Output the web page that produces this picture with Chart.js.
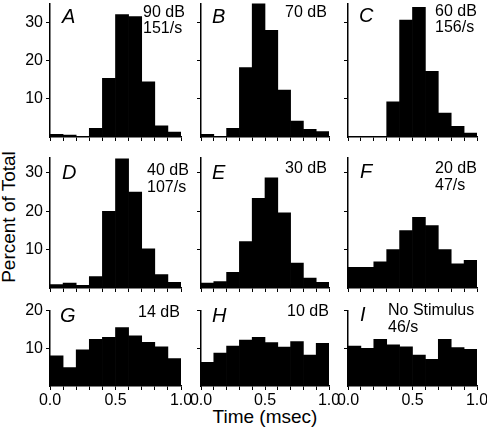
<!DOCTYPE html>
<html>
<head>
<meta charset="utf-8">
<script src="https://cdn.jsdelivr.net/npm/chart.js@4.4.1/dist/chart.umd.min.js"></script>
<style>
  html, body { margin: 0; padding: 0; background: #fff; }
  #fig { position: relative; width: 487px; height: 430px; overflow: hidden; background: #fff;
         font-family: "Liberation Sans", Arial, sans-serif; color: #000; }
  #fig canvas { position: absolute; }
  .axis-title { position: absolute; font-size: 19px; line-height: 20px; white-space: nowrap; }
  #ytitle { left: 9px; top: 217px; transform: translate(-50%, -50%) rotate(-90deg); }
  #xtitle { left: 265px; top: 417px; transform: translate(-50%, -50%); }
</style>
</head>
<body>
<div id="fig">
  <div class="axis-title" id="ytitle">Percent of Total</div>
  <div class="axis-title" id="xtitle">Time (msec)</div>
</div>
<script>
// histogram bins, 0.1 msec wide from 0 to 1.0 msec
const binCenters = [0.05, 0.15, 0.25, 0.35, 0.45, 0.55, 0.65, 0.75, 0.85, 0.95];
const xTickLabels = ['0.0', '0.5', '1.0'];
const yTickValues = [10, 20, 30];

const panelLetters = ['A', 'B', 'C', 'D', 'E', 'F', 'G', 'H', 'I'];
const panelNotes = [
  ['90 dB', '151/s'], ['70 dB'], ['60 dB', '156/s'],
  ['40 dB', '107/s'], ['30 dB'], ['20 dB', '47/s'],
  ['14 dB'], ['10 dB'], ['No Stimulus', '46/s']
];

// percent of total per bin
const pct90 = [0.7, 0.5, 0, 2.3, 15.4, 32.1, 31.6, 14.5, 2.9, 1.3];
const pct70 = [0.7, 0, 2.3, 18.2, 35.2, 28.0, 12.3, 4.2, 2.0, 1.4];
const pct60 = [0, 0, 0, 9.2, 30.7, 34.0, 17.2, 6.3, 2.8, 1.0];
const pct40 = [0.9, 1.3, 0.7, 3.0, 20.0, 33.7, 25.0, 10.2, 3.5, 1.5];
const pct30 = [1.3, 1.7, 4.1, 12.1, 23.4, 28.7, 19.6, 6.5, 2.6, 1.5];
const pct20 = [5.4, 5.4, 6.8, 10.0, 15.0, 18.4, 16.3, 10.0, 6.3, 7.2];
const pct14 = [8.0, 4.9, 9.6, 12.4, 12.9, 15.5, 13.3, 11.6, 10.4, 7.3];
const pct10 = [6.3, 8.7, 10.6, 12.2, 12.9, 11.5, 10.3, 11.8, 8.2, 11.3];
const pctNone = [10.6, 10.0, 12.4, 10.9, 10.4, 8.2, 7.1, 12.4, 10.2, 9.7];

const panelValues = [pct90, pct70, pct60, pct40, pct30, pct20, pct14, pct10, pctNone];
const rowMax = [35, 34, 20];

// page layout (px)
const colLeft = [50, 201, 348];
const colWidth = [131, 128, 129];
const rowTop = [3, 157, 310];
const rowZero = [137.5, 288.5, 386];
const PAD_T = 12, PAD_R = 14, Y_W = 50, X_H = 40;

const letterPos = [[62, 17], [212, 17], [359, 16], [62, 173], [212, 173], [360, 172], [60, 316], [212, 316], [360, 315]];
const notePos = [
  [143, [12.5, 28.5]], [285, [12.5]], [435, [12, 28]],
  [147, [171, 188]], [285, [169]], [435, [169, 186]],
  [138, [313]], [287, [312]], [388, [311, 328]]
];

const FONT = '"Liberation Sans", Arial, sans-serif';

const panelTextPlugin = {
  id: 'panelText',
  afterDraw(chart, args, opts) {
    const ctx = chart.ctx;
    ctx.save();
    ctx.fillStyle = '#000';
    ctx.textAlign = 'left';
    ctx.textBaseline = 'middle';
    ctx.font = 'italic 20px ' + FONT;
    ctx.fillText(opts.letter, opts.letterX, opts.letterY);
    ctx.font = '16px ' + FONT;
    opts.lines.forEach((t, i) => ctx.fillText(t, opts.noteX, opts.noteY[i]));
    ctx.restore();
  }
};

const fig = document.getElementById('fig');

panelValues.forEach((values, p) => {
  const r = Math.floor(p / 3), c = p % 3;
  const left = colLeft[c] - Y_W;
  const top = rowTop[r] - PAD_T;
  const canvas = document.createElement('canvas');
  canvas.width = Y_W + colWidth[c] + PAD_R;
  canvas.height = PAD_T + (rowZero[r] - rowTop[r]) + X_H;
  canvas.style.left = left + 'px';
  canvas.style.top = top + 'px';
  fig.appendChild(canvas);

  const showX = r === 2;
  const showY = c === 0;
  const yMax = rowMax[r];

  new Chart(canvas, {
    type: 'bar',
    data: {
      datasets: [{
        data: binCenters.map((x, i) => ({ x: x, y: values[i] })),
        backgroundColor: '#000',
        borderWidth: 0,
        barPercentage: 1,
        categoryPercentage: 1
      }]
    },
    options: {
      responsive: false,
      animation: false,
      layout: { padding: { top: PAD_T, right: PAD_R, left: 0, bottom: 0 } },
      plugins: {
        legend: { display: false },
        tooltip: { enabled: false },
        panelText: {
          letter: panelLetters[p],
          letterX: letterPos[p][0] - left,
          letterY: letterPos[p][1] - top,
          lines: panelNotes[p],
          noteX: notePos[p][0] - left,
          noteY: notePos[p][1].map(y => y - top)
        }
      },
      scales: {
        x: {
          type: 'linear',
          min: 0,
          max: 1,
          offset: false,
          grid: { drawOnChartArea: false, tickLength: 4, color: '#000', lineWidth: 1, offset: false },
          border: { color: '#000', width: 1.5 },
          ticks: {
            stepSize: 0.1,
            autoSkip: false,
            maxRotation: 0,
            padding: 1,
            color: '#000',
            font: { size: 16, family: FONT },
            callback: v => {
              const s = Number(v).toFixed(1);
              return showX && xTickLabels.includes(s) ? s : '';
            }
          },
          afterFit: s => { s.height = X_H; }
        },
        y: {
          min: 0,
          max: yMax,
          grid: { drawOnChartArea: false, tickLength: 4, color: '#000', lineWidth: 1 },
          border: { color: '#000', width: 1.5 },
          ticks: {
            padding: 3,
            color: '#000',
            font: { size: 16, family: FONT },
            callback: v => showY ? String(v) : ''
          },
          afterBuildTicks: s => {
            s.ticks = yTickValues.filter(v => v <= yMax).map(v => ({ value: v }));
          },
          afterFit: s => { s.width = Y_W; }
        }
      }
    },
    plugins: [panelTextPlugin]
  });
});
</script>
</body>
</html>
